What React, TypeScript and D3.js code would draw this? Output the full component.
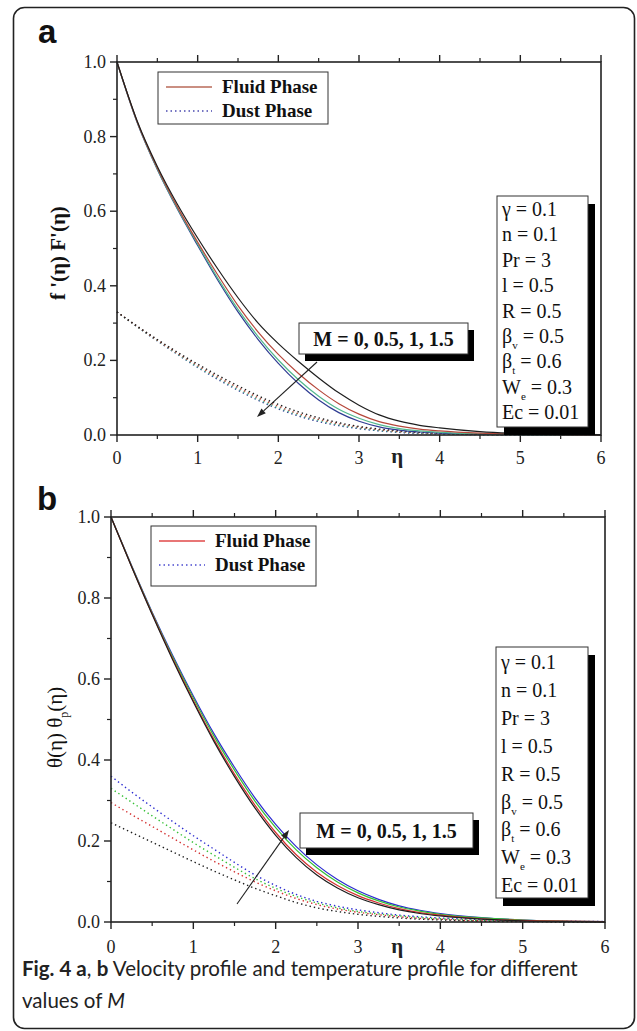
import React from 'react';
import * as d3 from 'd3';

// ---------- data ----------
const eta = [0, 0.25, 0.5, 0.75, 1, 1.25, 1.5, 1.75, 2, 2.25, 2.5, 2.75, 3, 3.25, 3.5, 3.75, 4, 4.5, 5, 5.5, 6];
const mLabel = 'M = 0, 0.5, 1, 1.5';

// panel a : velocity, fluid phase f'(η) for M = 0, 0.5, 1, 1.5
const velFluidM0 = [1.0, 0.842, 0.72, 0.618, 0.528, 0.445, 0.368, 0.3, 0.245, 0.197, 0.153, 0.113, 0.08, 0.054, 0.037, 0.026, 0.019, 0.009, 0.004, 0.002, 0.001];
const velFluidM05 = [1.0, 0.84, 0.716, 0.611, 0.517, 0.429, 0.347, 0.276, 0.216, 0.165, 0.121, 0.084, 0.056, 0.036, 0.024, 0.016, 0.011, 0.005, 0.002, 0.001, 0];
const velFluidM1 = [1.0, 0.839, 0.713, 0.607, 0.512, 0.42, 0.337, 0.264, 0.201, 0.148, 0.104, 0.069, 0.045, 0.028, 0.017, 0.011, 0.007, 0.003, 0.001, 0, 0];
const velFluidM15 = [1.0, 0.838, 0.712, 0.605, 0.508, 0.415, 0.33, 0.256, 0.192, 0.138, 0.094, 0.06, 0.037, 0.022, 0.013, 0.008, 0.005, 0.002, 0.001, 0, 0];
// panel a : velocity, dust phase F'(η)
const velDustM0 = [0.33, 0.292, 0.256, 0.222, 0.19, 0.16, 0.132, 0.105, 0.082, 0.062, 0.046, 0.033, 0.023, 0.016, 0.011, 0.007, 0.005, 0.002, 0.001, 0, 0];
const velDustM05 = [0.33, 0.291, 0.254, 0.219, 0.186, 0.155, 0.127, 0.1, 0.077, 0.057, 0.042, 0.03, 0.021, 0.014, 0.009, 0.006, 0.004, 0.002, 0.001, 0, 0];
const velDustM1 = [0.33, 0.29, 0.253, 0.217, 0.183, 0.152, 0.123, 0.096, 0.073, 0.054, 0.039, 0.027, 0.019, 0.012, 0.008, 0.005, 0.003, 0.001, 0, 0, 0];
const velDustM15 = [0.33, 0.29, 0.252, 0.216, 0.181, 0.149, 0.12, 0.093, 0.07, 0.051, 0.036, 0.025, 0.017, 0.011, 0.007, 0.004, 0.003, 0.001, 0, 0, 0];

// panel b : temperature, fluid phase θ(η)
const tempFluidM0 = [1.0, 0.877, 0.759, 0.647, 0.543, 0.446, 0.359, 0.281, 0.214, 0.159, 0.116, 0.084, 0.06, 0.043, 0.03, 0.021, 0.015, 0.007, 0.003, 0.001, 0];
const tempFluidM05 = [1.0, 0.878, 0.761, 0.65, 0.547, 0.451, 0.365, 0.288, 0.221, 0.166, 0.123, 0.09, 0.065, 0.047, 0.033, 0.023, 0.017, 0.008, 0.004, 0.002, 0.001];
const tempFluidM1 = [1.0, 0.879, 0.763, 0.654, 0.553, 0.459, 0.375, 0.298, 0.233, 0.178, 0.134, 0.099, 0.072, 0.052, 0.037, 0.027, 0.019, 0.01, 0.005, 0.002, 0.001];
const tempFluidM15 = [1.0, 0.88, 0.765, 0.658, 0.558, 0.465, 0.382, 0.306, 0.241, 0.186, 0.141, 0.105, 0.077, 0.056, 0.04, 0.029, 0.021, 0.011, 0.005, 0.002, 0.001];
// panel b : temperature, dust phase θp(η)
const tempDustM0 = [0.245, 0.221, 0.197, 0.173, 0.149, 0.126, 0.104, 0.083, 0.065, 0.048, 0.035, 0.026, 0.019, 0.014, 0.01, 0.007, 0.005, 0.002, 0.001, 0, 0];
const tempDustM05 = [0.295, 0.265, 0.236, 0.207, 0.178, 0.15, 0.124, 0.099, 0.077, 0.058, 0.043, 0.032, 0.024, 0.018, 0.013, 0.009, 0.007, 0.003, 0.002, 0.001, 0];
const tempDustM1 = [0.33, 0.296, 0.262, 0.229, 0.196, 0.165, 0.135, 0.107, 0.083, 0.063, 0.047, 0.035, 0.026, 0.02, 0.015, 0.011, 0.008, 0.004, 0.002, 0.001, 0];
const tempDustM15 = [0.36, 0.321, 0.284, 0.248, 0.213, 0.18, 0.147, 0.116, 0.09, 0.068, 0.051, 0.039, 0.03, 0.023, 0.017, 0.013, 0.01, 0.006, 0.003, 0.002, 0.001];

const xMajor = [0, 1, 2, 3, 4, 5, 6];
const xMinor = [0.5, 1.5, 2.5, 3.5, 4.5, 5.5];
const yMajor = [0, 0.2, 0.4, 0.6, 0.8, 1.0];
const yMinor = [0.1, 0.3, 0.5, 0.7, 0.9];

const legendLabels = ['Fluid Phase', 'Dust Phase'];
const params = [
  { base: 'γ', sub: '', value: '0.1' },
  { base: 'n', sub: '', value: '0.1' },
  { base: 'Pr', sub: '', value: '3' },
  { base: 'l', sub: '', value: '0.5' },
  { base: 'R', sub: '', value: '0.5' },
  { base: 'β', sub: 'v', value: '0.5' },
  { base: 'β', sub: 't', value: '0.6' },
  { base: 'W', sub: 'e', value: '0.3' },
  { base: 'Ec', sub: '', value: '0.01' },
];

const SERIF = "'Liberation Serif','Times New Roman',serif";

type PanelProps = {
  left: number; right: number; top: number; bottom: number;
  fluid: number[][]; dust: number[][]; colors: string[];
  legendColors: string[];
  legend: { x: number; y: number; w: number; h: number };
  paramBox: { x: number; y: number; w: number; h: number; step: number; first: number };
  mBox: { x: number; y: number; w: number; h: number; sx: number; sy: number };
  arrow: { x1: number; y1: number; x2: number; y2: number };
  tickLabelY: number; etaY: number; yLabelEnd: number;
};

function Panel(p: PanelProps) {
  const x = d3.scaleLinear().domain([0, 6]).range([p.left, p.right]);
  const y = d3.scaleLinear().domain([0, 1]).range([p.bottom, p.top]);
  const line = d3.line<number>().x((_, i) => x(eta[i])).y((d) => y(d)).curve(d3.curveMonotoneX);
  const order = [3, 2, 1, 0];
  const ax = p.arrow;
  const ang = Math.atan2(ax.y2 - ax.y1, ax.x2 - ax.x1);
  const hl = 9, hw = 3.2;
  const hx = ax.x2 - hl * Math.cos(ang), hy = ax.y2 - hl * Math.sin(ang);
  const head = `M${ax.x2},${ax.y2} L${hx + hw * Math.sin(ang)},${hy - hw * Math.cos(ang)} L${hx - hw * Math.sin(ang)},${hy + hw * Math.cos(ang)} Z`;
  const lg = p.legend;
  const pb = p.paramBox;
  const mb = p.mBox;
  return (
    <g>
      {order.map((k) => (
        <path key={'d' + k} d={line(p.dust[k]) || ''} fill="none" stroke={p.colors[k]} strokeWidth={1.4} strokeDasharray="1.4,3" />
      ))}
      {order.map((k) => (
        <path key={'f' + k} d={line(p.fluid[k]) || ''} fill="none" stroke={p.colors[k]} strokeWidth={1.2} />
      ))}
      <rect x={p.left} y={p.top} width={p.right - p.left} height={p.bottom - p.top} fill="none" stroke="#222" strokeWidth={1.6} />
      {xMajor.map((v) => (
        <g key={'xM' + v}>
          <line x1={x(v)} x2={x(v)} y1={p.bottom} y2={p.bottom + 7} stroke="#222" strokeWidth={1.4} />
          <line x1={x(v)} x2={x(v)} y1={p.top} y2={p.top - 7} stroke="#222" strokeWidth={1.4} />
          <text x={x(v)} y={p.tickLabelY} textAnchor="middle" fontFamily={SERIF} fontSize={18} fill="#222">{v}</text>
        </g>
      ))}
      {xMinor.map((v) => (
        <g key={'xm' + v}>
          <line x1={x(v)} x2={x(v)} y1={p.bottom} y2={p.bottom + 4} stroke="#222" strokeWidth={1.2} />
          <line x1={x(v)} x2={x(v)} y1={p.top} y2={p.top - 4} stroke="#222" strokeWidth={1.2} />
        </g>
      ))}
      {yMajor.map((v) => (
        <g key={'yM' + v}>
          <line x1={p.left} x2={p.left - 7} y1={y(v)} y2={y(v)} stroke="#222" strokeWidth={1.4} />
          <text x={p.yLabelEnd} y={y(v) + 6} textAnchor="end" fontFamily={SERIF} fontSize={18} fill="#222">{v.toFixed(1)}</text>
        </g>
      ))}
      {yMinor.map((v) => (
        <line key={'ym' + v} x1={p.left} x2={p.left - 4} y1={y(v)} y2={y(v)} stroke="#222" strokeWidth={1.2} />
      ))}
      <text x={x(3.5) - 2} y={p.etaY} textAnchor="middle" fontFamily={SERIF} fontSize={21} fontWeight="bold" fill="#222">η</text>
      <rect x={lg.x} y={lg.y} width={lg.w} height={lg.h} fill="#fff" stroke="#333" strokeWidth={1} />
      {legendLabels.map((t, i) => {
        const ly = lg.y + 15 + i * 24;
        return (
          <g key={t}>
            <line x1={lg.x + 8} x2={lg.x + 54} y1={ly} y2={ly} stroke={p.legendColors[i]} strokeWidth={1.3} strokeDasharray={i === 1 ? '1.5,3' : undefined} />
            <text x={lg.x + 64} y={ly + 6} fontFamily={SERIF} fontWeight="bold" fontSize={19} fill="#111">{t}</text>
          </g>
        );
      })}
      <line x1={ax.x1} y1={ax.y1} x2={hx} y2={hy} stroke="#222" strokeWidth={1.1} />
      <path d={head} fill="#222" />
      <rect x={mb.x + mb.sx} y={mb.y + mb.sy} width={mb.w} height={mb.h} fill="#000" />
      <rect x={mb.x} y={mb.y} width={mb.w} height={mb.h} fill="#fff" stroke="#333" strokeWidth={1} />
      <text x={mb.x + mb.w / 2} y={mb.y + mb.h / 2 + 7} textAnchor="middle" fontFamily={SERIF} fontWeight="bold" fontSize={20} fill="#111">{mLabel}</text>
      <rect x={pb.x + 7} y={pb.y + 8} width={pb.w} height={pb.h} fill="#000" />
      <rect x={pb.x} y={pb.y} width={pb.w} height={pb.h} fill="#fff" stroke="#333" strokeWidth={1} />
      {params.map((q, i) => (
        <text key={i} x={pb.x + 5} y={pb.first + i * pb.step} fontFamily={SERIF} fontSize={20} fill="#111">
          <tspan>{q.base}</tspan>
          {q.sub ? <tspan dy={6} fontSize={11}>{q.sub}</tspan> : null}
          <tspan dy={q.sub ? -6 : 0}>{' = ' + q.value}</tspan>
        </text>
      ))}
    </g>
  );
}

export default function App() {
  return (
    <svg width={637} height={1031} style={{ position: 'absolute', left: 0, top: 0, background: '#fff' }}>
      <rect x={13.5} y={7.5} width={621} height={1021} rx={11} fill="#fff" stroke="#222" strokeWidth={1.6} />
      <text x={38} y={43} fontFamily="'Liberation Sans',Arial,sans-serif" fontWeight="bold" fontSize={33} fill="#111">a</text>
      <text x={37} y={510} fontFamily="'Liberation Sans',Arial,sans-serif" fontWeight="bold" fontSize={33} fill="#111">b</text>

      <Panel
        left={117} right={601} top={62} bottom={435}
        fluid={[velFluidM0, velFluidM05, velFluidM1, velFluidM15]}
        dust={[velDustM0, velDustM05, velDustM1, velDustM15]}
        colors={['#1e1e1e', '#b5473a', '#52b88e', '#2f3c93']}
        legendColors={['#b86a58', '#4a4ab0']}
        legend={{ x: 158, y: 72, w: 170, h: 52 }}
        paramBox={{ x: 497, y: 196, w: 91, h: 231, step: 25.4, first: 216 }}
        mBox={{ x: 299, y: 323, w: 169, h: 31, sx: 6, sy: 7 }}
        arrow={{ x1: 317, y1: 362, x2: 257, y2: 417 }}
        tickLabelY={464} etaY={463} yLabelEnd={106}
      />
      <Panel
        left={111} right={605} top={517} bottom={922}
        fluid={[tempFluidM0, tempFluidM05, tempFluidM1, tempFluidM15]}
        dust={[tempDustM0, tempDustM05, tempDustM1, tempDustM15]}
        colors={['#1e1e1e', '#d43030', '#35c035', '#2c2cd0']}
        legendColors={['#e04848', '#4a4ad0']}
        legend={{ x: 151, y: 526, w: 165, h: 60 }}
        paramBox={{ x: 496, y: 647, w: 92, h: 251, step: 27.9, first: 669 }}
        mBox={{ x: 300, y: 813, w: 173, h: 35, sx: 6, sy: 7 }}
        arrow={{ x1: 237, y1: 904, x2: 289, y2: 830 }}
        tickLabelY={953} etaY={953} yLabelEnd={100}
      />

      <text transform="translate(65,300) rotate(-90)" textAnchor="start" fontFamily={SERIF} fontWeight="bold" fontSize={21} fill="#111">f '(η) F'(η)</text>
      <text transform="translate(62,768) rotate(-90)" textAnchor="start" fontFamily={SERIF} fontSize={21} fill="#111">
        θ(η) θ<tspan dy={6} fontSize={12}>p</tspan><tspan dy={-6}>(η)</tspan>
      </text>

      <text x={22} y={976} fontFamily="Lato, 'Open Sans', sans-serif" fontSize={20.5} fill="#222">
        <tspan fontWeight="bold">Fig. 4 a</tspan>, <tspan fontWeight="bold">b</tspan> Velocity profile and temperature profile for different
      </text>
      <text x={22} y={1008} fontFamily="Lato, 'Open Sans', sans-serif" fontSize={20.5} fill="#222">
        values of <tspan fontStyle="italic">M</tspan>
      </text>
    </svg>
  );
}
